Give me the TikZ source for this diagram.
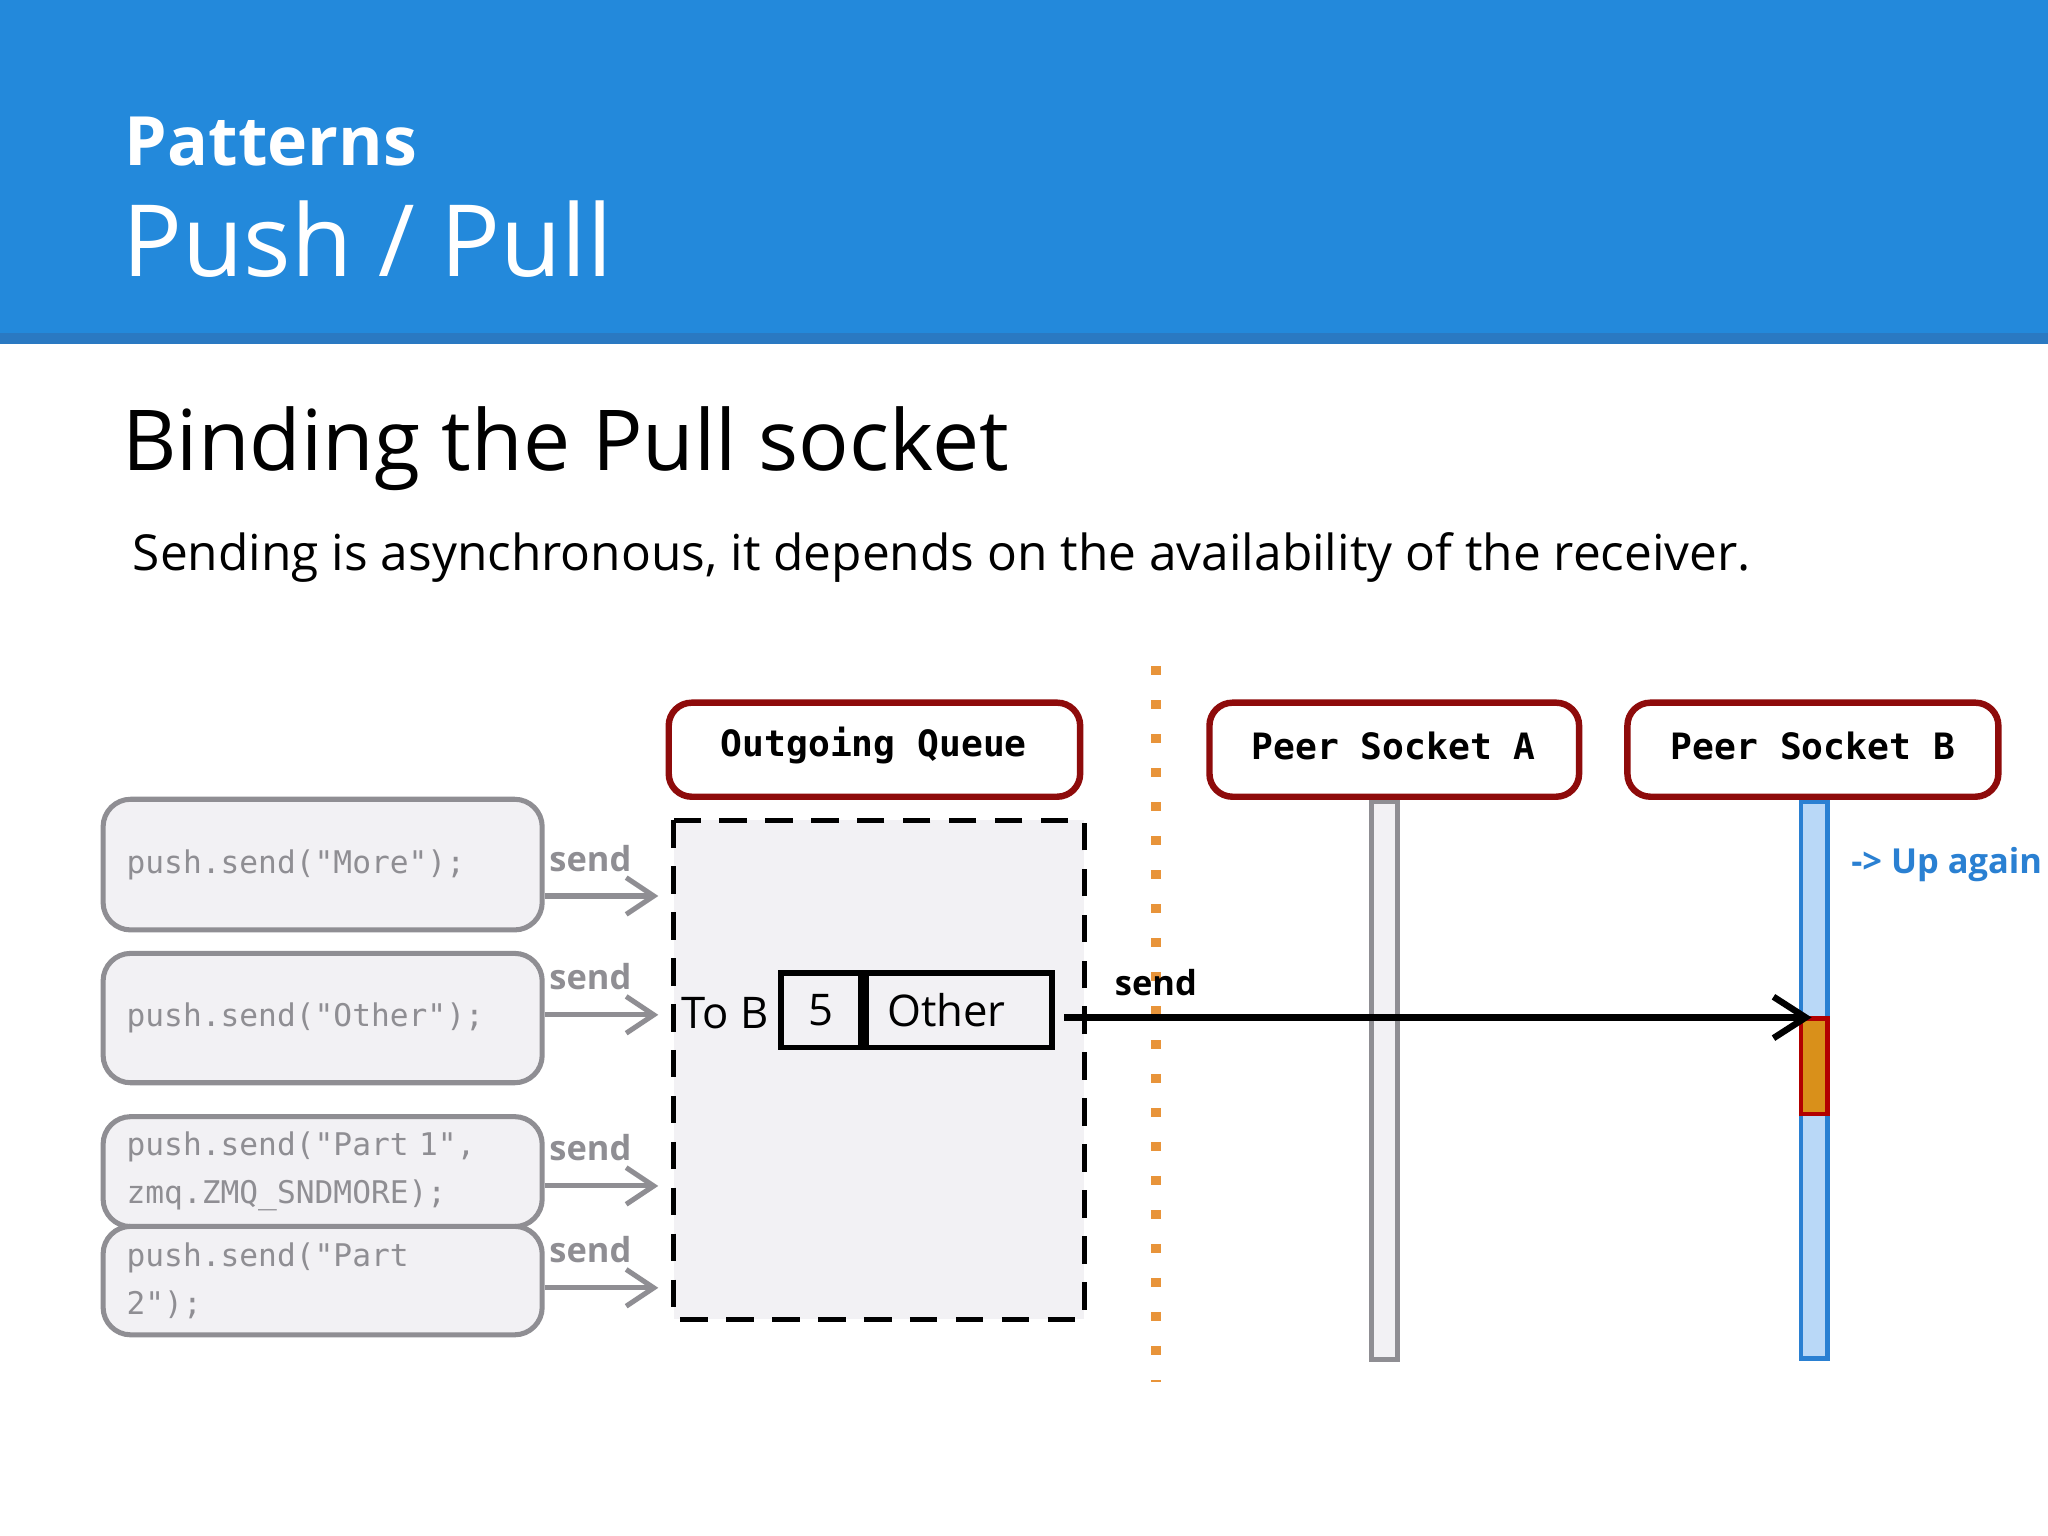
\documentclass[tikz,border=0pt]{standalone}
\usepackage{fontspec}
\setmainfont{Open Sans}
\newfontfamily\codefont{DejaVu Sans Mono}
\usetikzlibrary{arrows.meta,positioning}
\definecolor{headblue}{HTML}{2389DB}
\definecolor{stripblue}{HTML}{2A79C2}
\definecolor{boxred}{HTML}{8E0B0B}
\definecolor{codegray}{HTML}{8F8E93}
\definecolor{codefill}{HTML}{F2F1F4}
\definecolor{lifeblue}{HTML}{B9D8F7}
\definecolor{lineblue}{HTML}{2A80D2}
\definecolor{busy}{HTML}{D9901A}
\definecolor{dotorange}{HTML}{E8943A}
\begin{document}
\begin{tikzpicture}[x=0.01cm,y=-0.01cm,
  peer/.style={font=\codefont\fontsize{7.9}{10}\selectfont\bfseries},
  peerbox/.style={draw=boxred, line width=1.4pt, rounded corners=5pt, fill=white},
  code/.style={draw=codegray, line width=1.1pt, rounded corners=6pt, fill=codefill, text=codegray, align=left,
    minimum width=3.35cm, anchor=north west, text width=3.0cm, inner xsep=0.18cm, font=\codefont\fontsize{6.8}{10.5}\selectfont},
  sendlbl/.style={text=codegray, font=\bfseries\fontsize{7.5}{9}\selectfont},
  feed/.style={draw=codegray, line width=1.1pt, -{Straight Barb[length=6pt,width=8pt]}},
  life/.style={line width=1pt}]
\useasboundingbox (0,0) rectangle (1568,1176);
% header
\fill[headblue] (0,0) rectangle (1568,255);
\fill[stripblue] (0,255) rectangle (1568,263);
\node[anchor=base west, text=white, font=\bfseries\fontsize{14.8}{18}\selectfont, inner sep=0] (kicker) at (95,127) {Patterns};
\node[anchor=base west, text=white, font=\fontsize{21.7}{26}\selectfont, inner sep=0] (head) at (93,212) {Push / Pull};
\node[anchor=base west, font=\fontsize{18.3}{22}\selectfont, inner sep=0] (title) at (93,360) {Binding the Pull socket};
\node[anchor=base west, font=\fontsize{10.8}{13}\selectfont, inner sep=0] (sub) at (101,437) {Sending is asynchronous, it depends on the availability of the receiver.};
% peers
\draw[peerbox] (512,538) rectangle (827,610);
\node[peer] (queue) at (669,571) {Outgoing Queue};
\draw[peerbox] (926,538) rectangle (1209,610);
\node[peer] (peerA) at (1067,571) {Peer Socket A};
\draw[peerbox] (1246,538) rectangle (1530,610);
\node[peer] (peerB) at (1388,571) {Peer Socket B};
% queue area
\draw[line width=1.1pt, fill=codefill, dash pattern=on 6pt off 4pt] (516,628) rectangle (830,1010);
\draw[dotorange, line width=2pt, dash pattern=on 2pt off 5.4pt] (885,510) -- (885,1058);
% lifelines
\draw[life, draw=codegray, fill=codefill] (1050,614) rectangle (1070,1041);
\draw[life, draw=lineblue, fill=lifeblue] (1379,614) rectangle (1399,1040);
\draw[life, draw=red!70!black, fill=busy] (1379,780) rectangle (1399,853);
\node[anchor=west, text=lineblue, font=\bfseries\fontsize{7.5}{9}\selectfont] (again) at (1405,662) {-> Up again};
% code boxes
\node[code, minimum height=1.0cm] (c1) at (77,610) {push.send("More");};
\node[code, minimum height=0.99cm] (c2) at (77,728) {push.send("Other");};
\node[code, minimum height=0.84cm] (c3) at (77,853) {push.send("Part 1",\\zmq.ZMQ\_SNDMORE);};
\node[code, minimum height=0.83cm] (c4) at (77,937) {push.send("Part\\2");};
\foreach \n/\y/\ly in {c1/686/657, c2/777/748, c3/908/879, c4/986/957}{
  \coordinate (\n-in) at (504,\y);
  \draw[feed] (\n.east |- \n-in) -- (\n-in);
  \node[sendlbl] at (452,\ly) {send};
}
% message
\node[font=\fontsize{9.5}{12}\selectfont] (tob) at (555,776) {To B};
\node[draw, line width=1.2pt, minimum width=0.61cm, minimum height=0.57cm, font=\fontsize{9.5}{12}\selectfont] (num) at (628.5,773.5) {5};
\node[draw, line width=1.2pt, minimum width=1.34cm, minimum height=0.57cm, anchor=west, text width=1.1cm, inner xsep=0.16cm, font=\fontsize{9.5}{12}\selectfont] (msg) at (num.east) {Other};
\coordinate (out) at (815,779);
\coordinate (hit) at (1387,779);
\draw[line width=1.4pt, -{Straight Barb[length=7pt,width=9pt]}] (out) -- (hit);
\node[font=\bfseries\fontsize{7.5}{9}\selectfont] (sendB) at (885,752) {send};
\end{tikzpicture}
\end{document}
